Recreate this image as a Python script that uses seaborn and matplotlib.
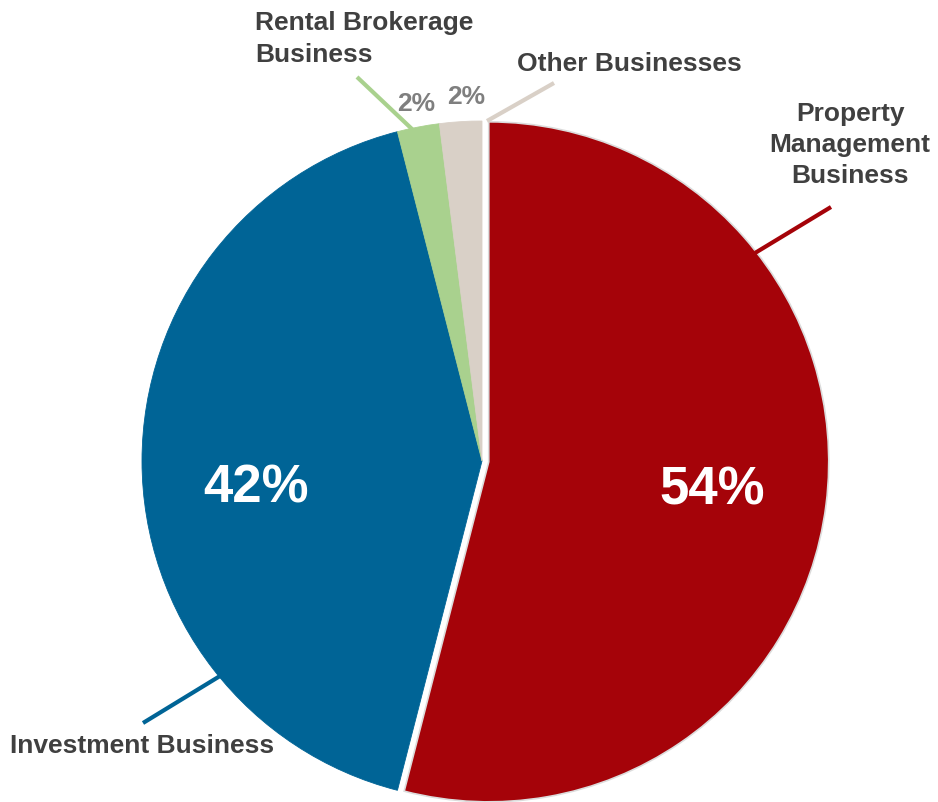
import matplotlib
matplotlib.use("Agg")
import matplotlib.pyplot as plt
import seaborn as sns

# Revenue share by business segment
segments = ["Property Management Business", "Investment Business",
            "Rental Brokerage Business", "Other Businesses"]
shares = [54, 42, 2, 2]
colors = ["#A50309", "#006496", "#A9D18E", "#D9D0C7"]

sns.set_theme(style="white")
plt.rcParams["font.family"] = ["Liberation Sans", "DejaVu Sans"]

W, H = 938, 802
fig = plt.figure(figsize=(W / 100, H / 100), dpi=100)
ax = fig.add_axes([0, 0, 1, 1])

wedges, _ = ax.pie(shares, colors=colors, startangle=90, counterclock=False,
                   explode=[0.02, 0, 0, 0], radius=1.0,
                   wedgeprops=dict(edgecolor="none", linewidth=0))
# thin light seam along the separated main wedge
wedges[0].set_edgecolor("#DCDCDC")
wedges[0].set_linewidth(1.2)
for w in wedges[1:]:
    w.set_edgecolor(w.get_facecolor())
    w.set_linewidth(0.6)

# pie centre and radius in pixels; limits set after pie() which resets them
cx, cy, R = 482, 461, 340
ax.set_aspect("auto")
ax.set_xlim(-cx / R, (W - cx) / R)
ax.set_ylim(-(H - cy) / R, cy / R)
ax.axis("off")


def px(x, y):
    """pixel position (top-left origin) to data coordinates"""
    return (x - cx) / R, (cy - y) / R


label_color = "#404040"
pct_gray = "#7F7F7F"

# big percentage labels inside the two main wedges
ax.text(*px(712, 490), f"{shares[0]}%", color="white", fontsize=38,
        fontweight="bold", ha="center", va="center")
ax.text(*px(256, 488), f"{shares[1]}%", color="white", fontsize=38,
        fontweight="bold", ha="center", va="center")

# small percentage labels above the thin wedges
ax.text(*px(416, 104), f"{shares[2]}%", color=pct_gray, fontsize=19,
        fontweight="bold", ha="center", va="center")
ax.text(*px(466, 97), f"{shares[3]}%", color=pct_gray, fontsize=19,
        fontweight="bold", ha="center", va="center")

# segment names
ax.text(*px(850, 145), "Property\nManagement\nBusiness", color=label_color,
        fontsize=19, fontweight="bold", ha="center", va="center",
        linespacing=1.38)
ax.text(*px(10, 746), "Investment Business", color=label_color,
        fontsize=19, fontweight="bold", ha="left", va="center")
ax.text(*px(255, 39), "Rental Brokerage\nBusiness", color=label_color,
        fontsize=19, fontweight="bold", ha="left", va="center",
        linespacing=1.38)
ax.text(*px(517, 64), "Other Businesses", color=label_color,
        fontsize=19, fontweight="bold", ha="left", va="center")

# leader lines
leaders = [
    ((831, 207), (755, 253), colors[0]),
    ((143, 723), (220, 676), colors[1]),
    ((357, 77), (413, 130), colors[2]),
    ((554, 83), (487, 121), colors[3]),
]
for (x0, y0), (x1, y1), c in leaders:
    (a, b), (d, e) = px(x0, y0), px(x1, y1)
    ax.plot([a, d], [b, e], color=c, linewidth=3, solid_capstyle="butt")

fig.savefig("out.png", dpi=100, facecolor="white")
